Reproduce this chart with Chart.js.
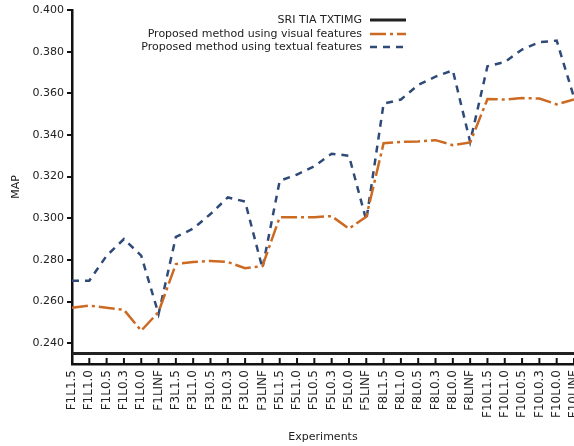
<!DOCTYPE html>
<html>
<head>
<meta charset="utf-8">
<script src="https://cdn.jsdelivr.net/npm/chart.js@4.4.1/dist/chart.umd.min.js"></script>
<style>
html,body{margin:0;padding:0;background:#fff;}
#wrap{width:574px;height:446px;position:relative;}
</style>
</head>
<body>
<div id="wrap"><canvas id="c"></canvas></div>
<script>
const categories = ["F1L1.5","F1L1.0","F1L0.5","F1L0.3","F1L0.0","F1LINF",
  "F3L1.5","F3L1.0","F3L0.5","F3L0.3","F3L0.0","F3LINF",
  "F5L1.5","F5L1.0","F5L0.5","F5L0.3","F5L0.0","F5LINF",
  "F8L1.5","F8L1.0","F8L0.5","F8L0.3","F8L0.0","F8LINF",
  "F10L1.5","F10L1.0","F10L0.5","F10L0.3","F10L0.0","F10LINF"];
const sriValues = [0.235,0.235,0.235,0.235,0.235,0.235,0.235,0.235,0.235,0.235,
  0.235,0.235,0.235,0.235,0.235,0.235,0.235,0.235,0.235,0.235,
  0.235,0.235,0.235,0.235,0.235,0.235,0.235,0.235,0.235,0.235];
const visualValues = [0.257,0.258,0.257,0.256,0.246,0.255,
  0.278,0.279,0.2795,0.279,0.276,0.277,
  0.3005,0.3005,0.3005,0.301,0.295,0.3007,
  0.336,0.3367,0.3369,0.3375,0.3351,0.3364,
  0.3572,0.357,0.3577,0.3575,0.3547,0.357];
const textualValues = [0.270,0.270,0.282,0.290,0.282,0.254,
  0.291,0.295,0.302,0.310,0.308,0.276,
  0.318,0.321,0.325,0.331,0.330,0.299,
  0.355,0.357,0.364,0.368,0.371,0.3367,
  0.373,0.375,0.381,0.3845,0.3853,0.358];
const seriesLabels = ["SRI TIA TXTIMG","Proposed method using visual features","Proposed method using textual features"];
const yTicks = [0.240,0.260,0.280,0.300,0.320,0.340,0.360,0.380,0.400];

const FONT = "'DejaVu Sans', sans-serif";

const insideTicks = {
  id:'insideTicks',
  afterDraw(chart){
    const ctx = chart.ctx, xs = chart.scales.x, area = chart.chartArea;
    ctx.save();
    ctx.strokeStyle = '#111'; ctx.lineWidth = 2;
    for(let i=1;i<xs.ticks.length;i++){
      const x = xs.getPixelForTick(i);
      ctx.beginPath(); ctx.moveTo(x, area.bottom); ctx.lineTo(x, area.bottom-6); ctx.stroke();
    }
    ctx.restore();
  }
};

const customLegend = {
  id:'customLegend',
  afterDraw(chart){
    const ctx = chart.ctx;
    ctx.save();
    ctx.font = "11px " + FONT;
    ctx.textAlign = 'right'; ctx.textBaseline = 'middle';
    const ys = [20,34,47];
    chart.data.datasets.forEach((ds,i)=>{
      ctx.fillStyle = '#222';
      ctx.fillText(ds.label, 362, ys[i]);
      ctx.strokeStyle = ds.borderColor;
      ctx.lineWidth = ds.borderWidth;
      ctx.setLineDash(ds.borderDash || []);
      ctx.beginPath(); ctx.moveTo(370, ys[i]); ctx.lineTo(406, ys[i]); ctx.stroke();
    });
    ctx.restore();
  }
};

new Chart(document.getElementById('c'), {
  type:'line',
  data:{
    labels: categories,
    datasets:[
      {label: seriesLabels[0], data: sriValues, borderColor:'#222222', borderWidth:3, pointRadius:0, tension:0},
      {label: seriesLabels[1], data: visualValues, borderColor:'#cc6a22', borderWidth:2.5, borderDash:[16,4,3,4], pointRadius:0, tension:0},
      {label: seriesLabels[2], data: textualValues, borderColor:'#2f4a78', borderWidth:2.5, borderDash:[7,6], pointRadius:0, tension:0}
    ]
  },
  options:{
    responsive:true, maintainAspectRatio:false, animation:false,
    layout:{padding:{top:10,right:0,left:0,bottom:0}},
    plugins:{legend:{display:false}, tooltip:{enabled:false}},
    scales:{
      x:{
        offset:false,
        afterFit(scale){ scale.height = 82; scale.paddingLeft = 0; scale.paddingRight = 0; },
        grid:{display:false, drawOnChartArea:false, drawTicks:false},
        border:{display:true, color:'#111', width:2.5},
        ticks:{color:'#222', font:{family:FONT, size:12}, minRotation:90, maxRotation:90, autoSkip:false, padding:6},
        title:{display:true, text:'Experiments', color:'#222', font:{family:FONT, size:11}, padding:{top:6,bottom:2}}
      },
      y:{
        min:0.23, max:0.40,
        afterFit(scale){ scale.width = 72; scale.paddingTop = 0; scale.paddingBottom = 0; },
        afterBuildTicks(scale){ scale.ticks = yTicks.map(v=>({value:v})); },
        grid:{drawOnChartArea:false, drawTicks:true, tickLength:5, color:'#111', lineWidth:2},
        border:{display:true, color:'#111', width:2.5},
        ticks:{color:'#222', font:{family:FONT, size:11}, padding:3, callback:(v)=>Number(v).toFixed(3)},
        title:{display:true, text:'MAP', color:'#222', font:{family:FONT, size:11}, padding:{top:10,bottom:8}}
      }
    }
  },
  plugins:[insideTicks, customLegend]
});
</script>
</body>
</html>
